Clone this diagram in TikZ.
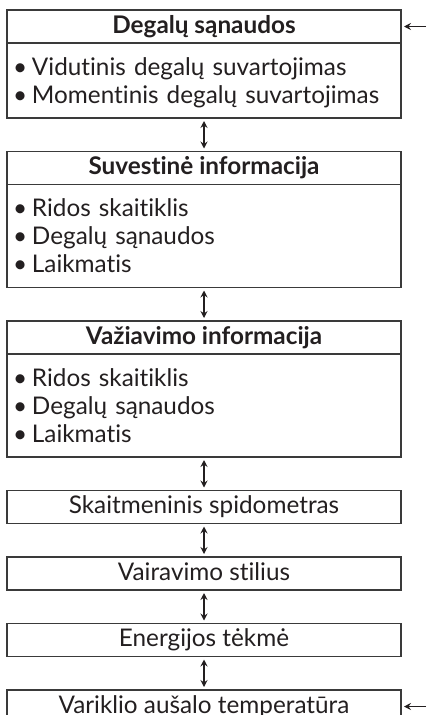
\documentclass[tikz,border=0pt]{standalone}
\usepackage{fontspec}
\setmainfont{Lato}[Ligatures=NoCommon]
\usetikzlibrary{arrows.meta,positioning}
\definecolor{ink}{HTML}{231F20}
\definecolor{frame}{HTML}{3A3A3A}
\newcommand{\itm}[1]{\makebox[19pt][l]{•}#1}
\newcommand{\topstrut}{\rule{0pt}{25pt}}
\newcommand{\botstrut}{\rule[-8pt]{0pt}{8pt}}

\begin{document}
\begin{tikzpicture}[node distance=33.5pt,>={Stealth[length=7pt,width=7pt,inset=2.5pt]},
 hd/.style={draw=frame,line width=1.6pt,outer sep=0pt,minimum width=394pt,inner sep=0pt,text height=23pt,text depth=10pt,text=ink,font=\fontsize{24.3pt}{28pt}\selectfont\bfseries},
 bx/.style={hd,font=\fontsize{24.3pt}{28pt}\selectfont},
 bd/.style={draw=frame,line width=1.6pt,outer sep=0pt,text width=382pt,inner xsep=6pt,inner ysep=7pt,align=left,text=ink,font=\fontsize{24.3pt}{28pt}\selectfont},
 ar/.style={<->,line width=1.3pt,color=ink,shorten <=3pt,shorten >=3pt},
 inar/.style={->,line width=1.3pt,color=ink,shorten >=3pt}]
 \useasboundingbox (0,0) rectangle (426pt,-715pt);
 % groups with a list
 \node[hd] (fuel) at (204pt,-26.5pt) {Degalų sąnaudos};
 \node[bd,below=0pt of fuel] (fuelbd) {\topstrut\itm{Vidutinis degalų suvartojimas}\\\itm{Momentinis degalų suvartojimas}\botstrut};
 \node[hd,below=of fuelbd] (sum) {Suvestinė informacija};
 \node[bd,below=0pt of sum] (sumbd) {\topstrut\itm{Ridos skaitiklis}\\\itm{Degalų sąnaudos}\\\itm{Laikmatis}\botstrut};
 \node[hd,below=of sumbd] (trip) {Važiavimo informacija};
 \node[bd,below=0pt of trip] (tripbd) {\topstrut\itm{Ridos skaitiklis}\\\itm{Degalų sąnaudos}\\\itm{Laikmatis}\botstrut};
 % single screens
 \node[bx,below=of tripbd] (speed) {Skaitmeninis spidometras};
 \node[bx,below=of speed] (style) {Vairavimo stilius};
 \node[bx,below=of style] (flow) {Energijos tėkmė};
 \node[bx,below=of flow] (temp) {Variklio aušalo temperatūra};
 \draw[ar] (fuelbd) -- (sum);
 \draw[ar] (sumbd) -- (trip);
 \draw[ar] (tripbd) -- (speed);
 \draw[ar] (speed) -- (style);
 \draw[ar] (style) -- (flow);
 \draw[ar] (flow) -- (temp);
 % entry points
 \coordinate[right=25pt of fuel.east] (fuelin);
 \coordinate[right=25pt of temp.east] (tempin);
 \draw[inar] (fuelin) -- (fuel.east);
 \draw[inar] (tempin) -- (temp.east);
\end{tikzpicture}
\end{document}
